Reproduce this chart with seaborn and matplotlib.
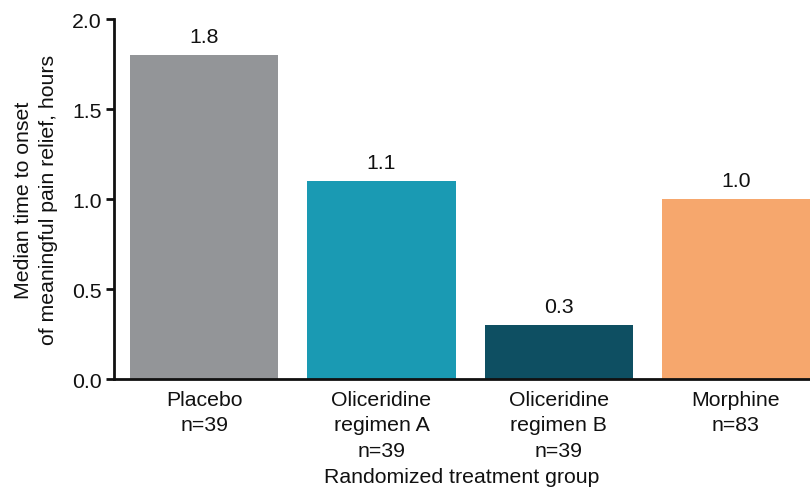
import matplotlib
matplotlib.use("Agg")
import matplotlib.pyplot as plt
import seaborn as sns
import pandas as pd

categories = ["Placebo\nn=39", "Oliceridine\nregimen A\nn=39", "Oliceridine\nregimen B\nn=39", "Morphine\nn=83"]
values = [1.8, 1.1, 0.3, 1.0]
value_labels = ["1.8", "1.1", "0.3", "1.0"]
colors = ["#939598", "#1a9ab3", "#0e4f62", "#f6a76d"]

sns.set_theme(style="white")
plt.rcParams["font.family"] = ["Liberation Sans", "DejaVu Sans"]

df = pd.DataFrame({"group": categories, "value": values})

fs = 15.3
ls = 1.42
fig = plt.figure(figsize=(8.1, 4.89), dpi=100)
ax = fig.add_axes([0.1407, 0.2229, 0.8593, 0.7362])
sns.barplot(data=df, x="group", y="value", hue="group", palette=colors,
            width=0.836, saturation=1, legend=False, ax=ax, linewidth=0)

for i, (v, lab) in enumerate(zip(values, value_labels)):
    ax.text(i, v + 0.05, lab, ha="center", va="bottom", fontsize=fs, color="#111111")

ax.set_ylim(0, 2.0)
ax.set_xlim(-0.51, 3.418)
ax.set_yticks([0, 0.5, 1.0, 1.5, 2.0])
ax.set_yticklabels(["0.0", "0.5", "1.0", "1.5", "2.0"])
ax.tick_params(axis="y", which="both", left=True, length=6, width=2, direction="out",
               labelsize=fs, colors="#111111", pad=3)
ax.tick_params(axis="x", bottom=False, labelsize=fs, colors="#111111", pad=2)
for t in ax.get_xticklabels():
    t.set_linespacing(ls)
for s in ["top", "right"]:
    ax.spines[s].set_visible(False)
for s in ["left", "bottom"]:
    ax.spines[s].set_linewidth(2)
    ax.spines[s].set_color("#111111")

ax.set_xlabel("Randomized treatment group", fontsize=fs, color="#111111", labelpad=5)
ax.set_ylabel("Median time to onset\nof meaningful pain relief, hours", fontsize=fs,
              color="#111111", labelpad=10, linespacing=ls)

fig.savefig("out.png", dpi=100)
